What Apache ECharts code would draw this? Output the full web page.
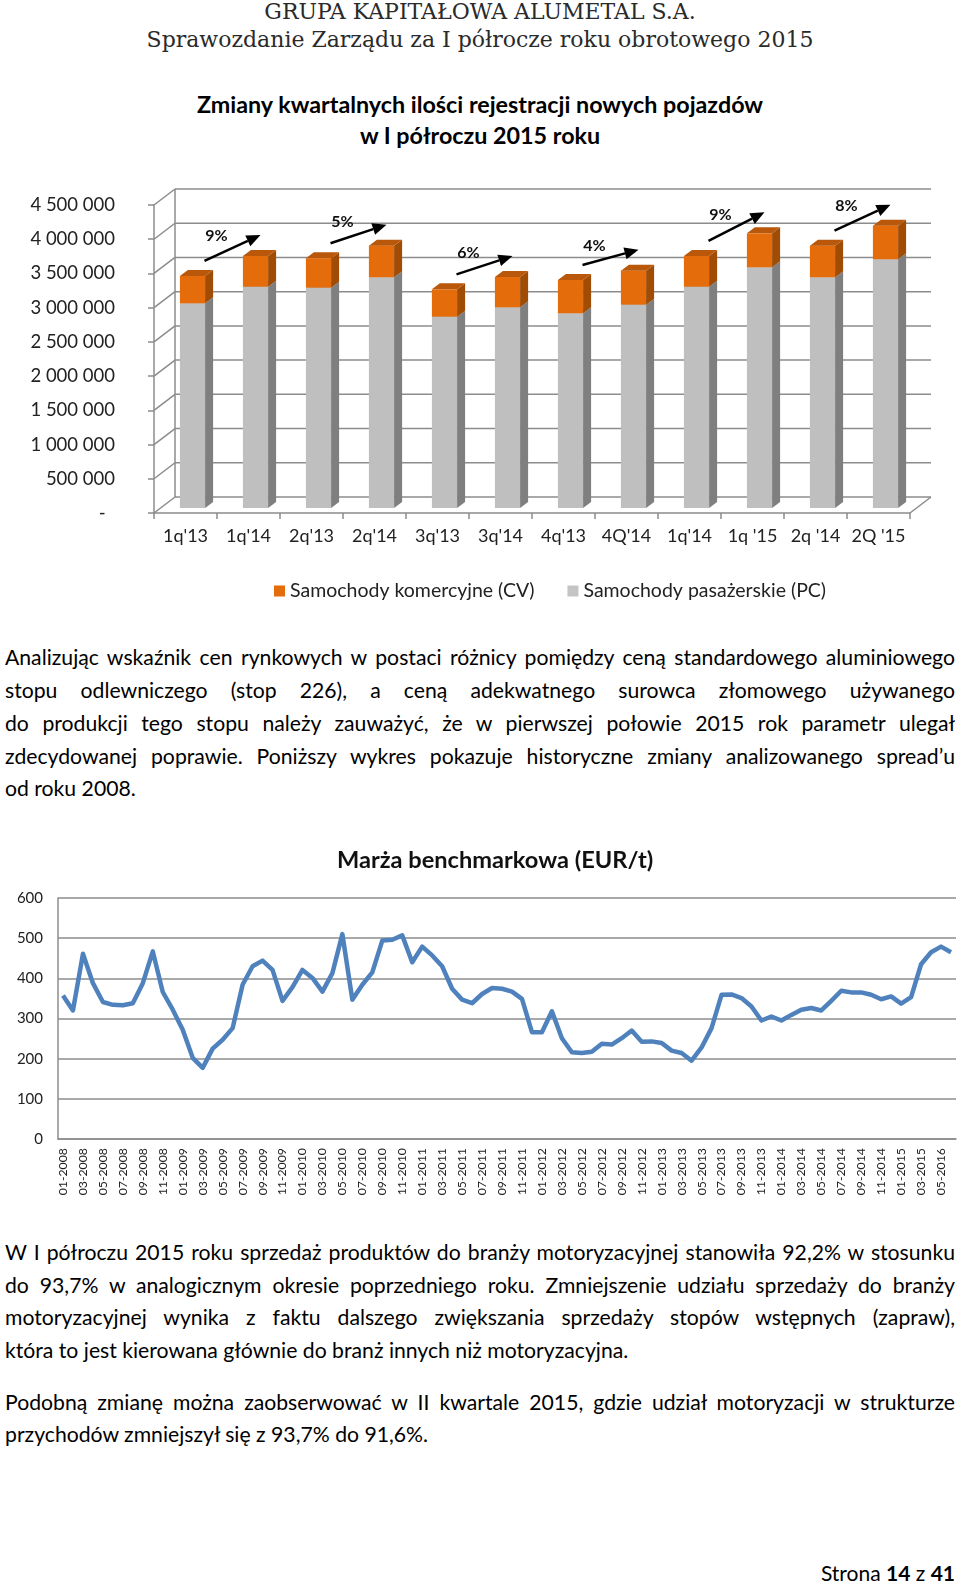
<!DOCTYPE html>
<html>
<head>
<meta charset="utf-8">
<script src="https://cdn.jsdelivr.net/npm/echarts@6/dist/echarts.min.js"></script>
<style>
  html, body { margin: 0; padding: 0; background: #fff; }
  body { width: 960px; height: 1584px; position: relative; overflow: hidden; font-family: Lato, "Open Sans", sans-serif; color: #000; }
  .abs { position: absolute; white-space: nowrap; }
  .hdr { font-family: "DejaVu Serif", serif; font-size: 22px; color: #2a2a2a; left: 0; width: 960px; text-align: center; line-height: 26px; }
  .ttl { font-weight: bold; font-size: 23.3px; left: 0; width: 960px; text-align: center; line-height: 28px; }
  .ln { left: 5px; width: 950px; font-size: 21.2px; line-height: 26px; text-align: justify; text-align-last: justify; white-space: normal; }
  .ln.last { text-align-last: left; }
  #bar { position: absolute; left: 0; top: 180px; width: 960px; height: 430px; }
  #line { position: absolute; left: 0; top: 820px; width: 960px; height: 390px; }
</style>
</head>
<body>
<div class="abs hdr" style="top:-1px">GRUPA KAPITAŁOWA ALUMETAL S.A.</div>
<div class="abs hdr" style="top:27px">Sprawozdanie Zarządu za I półrocze roku obrotowego 2015</div>
<div class="abs ttl" style="top:90px">Zmiany kwartalnych ilości rejestracji nowych pojazdów</div>
<div class="abs ttl" style="top:121px">w I półroczu 2015 roku</div>

<div id="bar"></div>

<div class="abs ln" style="top:644px">Analizując wskaźnik cen rynkowych w postaci różnicy pomiędzy ceną standardowego aluminiowego</div>
<div class="abs ln" style="top:677px">stopu odlewniczego (stop 226), a ceną adekwatnego surowca złomowego używanego</div>
<div class="abs ln" style="top:710px">do produkcji tego stopu należy zauważyć, że w pierwszej połowie 2015 rok parametr ulegał</div>
<div class="abs ln" style="top:743px">zdecydowanej poprawie. Poniższy wykres pokazuje historyczne zmiany analizowanego spread’u</div>
<div class="abs ln last" style="top:775px">od roku 2008.</div>

<div id="line"></div>

<div class="abs ln" style="top:1239px">W I półroczu 2015 roku sprzedaż produktów do branży motoryzacyjnej stanowiła 92,2% w stosunku</div>
<div class="abs ln" style="top:1272px">do 93,7% w analogicznym okresie poprzedniego roku. Zmniejszenie udziału sprzedaży do branży</div>
<div class="abs ln" style="top:1304px">motoryzacyjnej wynika z faktu dalszego zwiększania sprzedaży stopów wstępnych (zapraw),</div>
<div class="abs ln last" style="top:1337px">która to jest kierowana głównie do branż innych niż motoryzacyjna.</div>
<div class="abs ln" style="top:1389px">Podobną zmianę można zaobserwować w II kwartale 2015, gdzie udział motoryzacji w strukturze</div>
<div class="abs ln last" style="top:1421px">przychodów zmniejszył się z 93,7% do 91,6%.</div>

<div class="abs" style="top:1560px; right:5px; font-size:21px; line-height:26px;">Strona <b>14</b> z <b>41</b></div>

<script>
// keep each justified line on one line
document.querySelectorAll('.ln').forEach(function (el) {
  let fs = 21.2;
  while (el.scrollHeight > 34 && fs > 16) { fs -= 0.2; el.style.fontSize = fs + 'px'; }
});

// ---------- Chart 1 data: quarterly new vehicle registrations ----------
const quarters = ["1q'13", "1q'14", "2q'13", "2q'14", "3q'13", "3q'14", "4q'13", "4Q'14", "1q'14", "1q '15", "2q '14", "2Q '15"];
const pcValues = [2990000, 3233000, 3219000, 3371000, 2795000, 2932000, 2845000, 2971000, 3233000, 3517000, 3371000, 3634000];
const cvValues = [400000, 449000, 430000, 462000, 400000, 443000, 486000, 496000, 449000, 496000, 462000, 491000];
const growthLabels = ["9%", "5%", "6%", "4%", "9%", "8%"];
const barTicks = [0, 500000, 1000000, 1500000, 2000000, 2500000, 3000000, 3500000, 4000000, 4500000];

// ---------- Chart 2 data: benchmark margin (EUR/t) ----------
const months = [
  "01-2008","02-2008","03-2008","04-2008","05-2008","06-2008","07-2008","08-2008","09-2008","10-2008","11-2008","12-2008",
  "01-2009","02-2009","03-2009","04-2009","05-2009","06-2009","07-2009","08-2009","09-2009","10-2009","11-2009","12-2009",
  "01-2010","02-2010","03-2010","04-2010","05-2010","06-2010","07-2010","08-2010","09-2010","10-2010","11-2010","12-2010",
  "01-2011","02-2011","03-2011","04-2011","05-2011","06-2011","07-2011","08-2011","09-2011","10-2011","11-2011","12-2011",
  "01-2012","02-2012","03-2012","04-2012","05-2012","06-2012","07-2012","08-2012","09-2012","10-2012","11-2012","12-2012",
  "01-2013","02-2013","03-2013","04-2013","05-2013","06-2013","07-2013","08-2013","09-2013","10-2013","11-2013","12-2013",
  "01-2014","02-2014","03-2014","04-2014","05-2014","06-2014","07-2014","08-2014","09-2014","10-2014","11-2014","12-2014",
  "01-2015","02-2015","03-2015","04-2015","05-2016","06-2015"
];
const marginValues = [
  357, 320, 461, 388, 341, 334, 333, 338, 388, 467,
  366, 322, 272, 202, 177, 225, 247, 276, 384, 430,
  444, 421, 344, 378, 421, 401, 367, 413, 510, 347,
  384, 415, 494, 496, 507, 440, 479, 457, 430, 374,
  347, 338, 361, 376, 374, 367, 349, 266, 266, 318,
  251, 216, 214, 217, 237, 235, 251, 270, 242, 243,
  239, 220, 214, 195, 228, 276, 359, 360, 351, 330,
  295, 305, 295, 309, 322, 326, 320, 344, 369, 365,
  365, 359, 348, 355, 337, 353, 435, 465, 479, 465
];

// ---------- 3D look constants ----------
const WALL_DX = 21, WALL_DY = -16;   // depth of the chart box
const BAR_SX = 7, BAR_SY = -5;       // shift of bar front face into the box
const BAR_DX = 8, BAR_DY = -6;       // bar depth
const GRID_COLOR = '#8c8c8c';
const FONT = 'Lato, "Open Sans", sans-serif';

function fmtSpace(v) {
  if (v === 0) return '-\u00a0\u00a0';
  return String(v).replace(/\B(?=(\d{3})+(?!\d))/g, ' ');
}

const barChart = echarts.init(document.getElementById('bar'), null, { renderer: 'canvas' });

function barGeom(api, i, v0, v1) {
  const b = api.coord([i, v0]);
  const t = api.coord([i, v1]);
  const w = api.size([1, 0])[0] * 0.4;
  const cx = b[0] + BAR_SX;
  return { x0: cx - w / 2, x1: cx + w / 2, yb: b[1] + BAR_SY, yt: t[1] + BAR_SY, cx: cx };
}

function prism(g, front, side, top, withTop) {
  const children = [
    { type: 'rect', shape: { x: g.x0, y: g.yt, width: g.x1 - g.x0, height: g.yb - g.yt }, style: { fill: front } },
    { type: 'polygon', shape: { points: [[g.x1, g.yt], [g.x1 + BAR_DX, g.yt + BAR_DY], [g.x1 + BAR_DX, g.yb + BAR_DY], [g.x1, g.yb]] }, style: { fill: side } }
  ];
  if (withTop) {
    children.push({ type: 'polygon', shape: { points: [[g.x0, g.yt], [g.x1, g.yt], [g.x1 + BAR_DX, g.yt + BAR_DY], [g.x0 + BAR_DX, g.yt + BAR_DY]] }, style: { fill: top } });
  }
  return { type: 'group', children: children };
}

const barRows = quarters.map((q, i) => [i, pcValues[i], cvValues[i]]);

barChart.setOption({
  animation: false,
  textStyle: { fontFamily: FONT },
  grid: { left: 154, width: 756, top: 25, height: 308 },
  legend: {
    left: 269, top: 396, itemWidth: 11, itemHeight: 11, itemGap: 33, icon: 'rect',
    textStyle: { fontSize: 19.5, color: '#222', fontFamily: FONT },
    data: ['Samochody komercyjne (CV)', 'Samochody pasażerskie (PC)']
  },
  xAxis: {
    type: 'category', data: quarters,
    axisLine: { lineStyle: { color: GRID_COLOR, width: 1.5 } },
    axisTick: { show: true, length: 6, lineStyle: { color: GRID_COLOR, width: 1.5 } },
    axisLabel: { fontSize: 18, color: '#222', margin: 14, interval: 0, fontFamily: FONT }
  },
  yAxis: {
    type: 'value', min: 0, max: 4500000, interval: 500000,
    axisLine: { show: true, lineStyle: { color: GRID_COLOR, width: 1.5 } },
    axisTick: { show: true, length: 6, lineStyle: { color: GRID_COLOR, width: 1.5 } },
    splitLine: { show: false },
    axisLabel: { fontSize: 18.5, color: '#222', margin: 39, formatter: fmtSpace, fontFamily: FONT }
  },
  series: [
    {
      type: 'custom', name: 'walls', silent: true, z: 1,
      data: barTicks.map(v => [0, v]),
      encode: { x: 0, y: 1 },
      renderItem: function (params, api) {
        const cs = params.coordSys;
        const y = api.coord([0, api.value(1)])[1];
        const xl = cs.x, xr = cs.x + cs.width;
        const st = { stroke: GRID_COLOR, lineWidth: 1.5, fill: null };
        const ch = [
          { type: 'line', shape: { x1: xl, y1: y, x2: xl + WALL_DX, y2: y + WALL_DY }, style: st },
          { type: 'line', shape: { x1: xl + WALL_DX, y1: y + WALL_DY, x2: xr + WALL_DX, y2: y + WALL_DY }, style: st }
        ];
        if (params.dataIndex === 0) {
          const yTop = cs.y;
          ch.push({ type: 'line', shape: { x1: xl + WALL_DX, y1: y + WALL_DY, x2: xl + WALL_DX, y2: yTop + WALL_DY }, style: st });
          ch.push({ type: 'line', shape: { x1: xr, y1: y, x2: xr + WALL_DX, y2: y + WALL_DY }, style: st });
        }
        return { type: 'group', children: ch };
      }
    },
    {
      type: 'custom', name: 'Samochody pasażerskie (PC)', z: 3,
      itemStyle: { color: '#c4c4c4' },
      data: barRows, encode: { x: 0, y: 1 },
      renderItem: function (params, api) {
        const i = api.value(0);
        const g = barGeom(api, i, 0, api.value(1));
        return prism(g, '#bfbfbf', '#7f7f7f', '#a6a6a6', true);
      }
    },
    {
      type: 'custom', name: 'Samochody komercyjne (CV)', z: 4,
      itemStyle: { color: '#e46c0a' },
      data: barRows, encode: { x: 0, y: 2 },
      renderItem: function (params, api) {
        const i = api.value(0);
        const pc = api.value(1), cv = api.value(2);
        const g = barGeom(api, i, pc, pc + cv);
        return prism(g, '#e46c0a', '#a04c05', '#b9570a', true);
      }
    },
    {
      type: 'custom', name: 'growth', silent: true, z: 5,
      data: growthLabels.map((l, k) => [2 * k, pcValues[2 * k] + cvValues[2 * k], pcValues[2 * k + 1] + cvValues[2 * k + 1], l]),
      encode: { x: 0, y: 1 },
      renderItem: function (params, api) {
        const i = api.value(0);
        const a = api.coord([i, api.value(1)]);
        const b = api.coord([i + 1, api.value(2)]);
        const x1 = a[0] + BAR_SX + 12, y1 = a[1] + BAR_SY - 15;
        const x2 = b[0] + BAR_SX + 5, y2 = b[1] + BAR_SY - 21;
        const ang = Math.atan2(y2 - y1, x2 - x1);
        const L = 14, W = 6;
        const bx = x2 - L * Math.cos(ang), by = y2 - L * Math.sin(ang);
        const px = -Math.sin(ang) * W, py = Math.cos(ang) * W;
        const label = growthLabels[params.dataIndex];
        return {
          type: 'group', children: [
            { type: 'line', shape: { x1: x1, y1: y1, x2: bx, y2: by }, style: { stroke: '#000', lineWidth: 2.5 } },
            { type: 'polygon', shape: { points: [[x2, y2], [bx + px, by + py], [bx - px, by - py]] }, style: { fill: '#000' } },
            { type: 'text', x: (x1 + x2) / 2 - 16, y: (y1 + y2) / 2 - 12,
              style: { text: label, fontSize: 16, fontWeight: 'bold', fill: '#111', align: 'center', verticalAlign: 'middle', fontFamily: FONT } }
          ]
        };
      }
    }
  ]
});

// ---------- Chart 2 ----------
const lineChart = echarts.init(document.getElementById('line'), null, { renderer: 'canvas' });
lineChart.setOption({
  animation: false,
  textStyle: { fontFamily: FONT },
  title: {
    text: 'Marża benchmarkowa (EUR/t)', left: 332, top: 23,
    textStyle: { fontSize: 23.6, fontWeight: 'bold', color: '#111', fontFamily: FONT }
  },
  grid: { left: 58, width: 898, top: 78, height: 241 },
  xAxis: {
    type: 'category', data: months, boundaryGap: true,
    axisLine: { lineStyle: { color: '#8c8c8c', width: 1.5 } },
    axisTick: { show: false },
    axisLabel: { rotate: 90, interval: 1, fontSize: 12.3, color: '#222', margin: 9, fontFamily: FONT }
  },
  yAxis: {
    type: 'value', min: 0, max: 600, interval: 100,
    axisLine: { show: true, lineStyle: { color: '#8c8c8c', width: 1.5 } },
    axisTick: { show: false },
    splitLine: { lineStyle: { color: '#8c8c8c', width: 1.5 } },
    axisLabel: { fontSize: 15, color: '#222', margin: 15, fontFamily: FONT }
  },
  series: [{
    type: 'line', data: marginValues, showSymbol: false, symbol: 'none',
    lineStyle: { color: '#4f81bd', width: 4.5, join: 'round' },
    itemStyle: { color: '#4f81bd' }
  }]
});
</script>
</body>
</html>
